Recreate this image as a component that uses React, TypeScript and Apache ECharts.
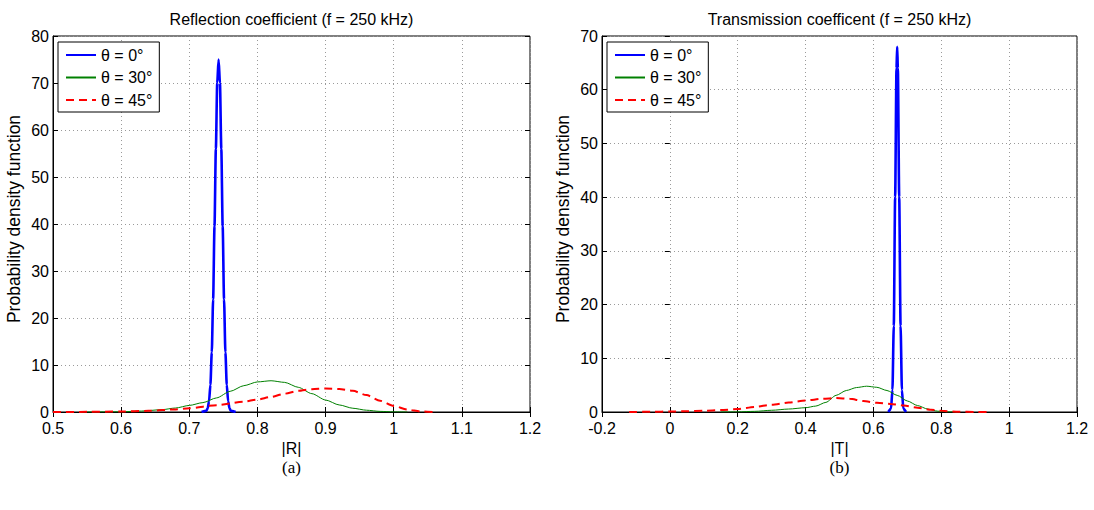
import React, { useEffect, useRef } from "react";
import * as echarts from "echarts";

const FONT = '"Liberation Sans", Arial, Helvetica, sans-serif';
const SERIF = '"Liberation Serif", "Times New Roman", serif';

const seriesNames = ["θ = 0°", "θ = 30°", "θ = 45°"];
const titles = ["Reflection coefficient (f = 250 kHz)", "Transmission coefficent (f = 250 kHz)"];
const captions = ["(a)", "(b)"];
const xNames = ["|R|", "|T|"];
const yName = "Probability density function";

// Reflection |R| — theta = 0°
const refl0: number[][] = [
  [0.718, 0], [0.725, 0.24], [0.727, 0.8], [0.729, 2.3], [0.731, 5.8], [0.733, 12.7],
  [0.735, 24], [0.737, 39.5], [0.739, 56], [0.741, 70], [0.743, 75], [0.745, 70],
  [0.747, 56], [0.749, 39.5], [0.751, 24], [0.753, 12.7], [0.755, 5.8], [0.757, 2.3],
  [0.759, 0.8], [0.761, 0.24], [0.768, 0],
];
// Reflection |R| — theta = 30°
const refl30: number[][] = [
  [0.55, 0], [0.6, 0.05], [0.63, 0.2], [0.66, 0.5], [0.68, 0.85], [0.7, 1.4],
  [0.72, 2.0], [0.74, 3.0], [0.76, 4.4], [0.78, 5.6], [0.8, 6.4], [0.82, 6.65],
  [0.84, 6.3], [0.86, 5.25], [0.88, 3.9], [0.9, 2.55], [0.92, 1.5], [0.94, 0.8],
  [0.96, 0.38], [0.98, 0.13], [1.0, 0.03], [1.02, 0],
];
// Reflection |R| — theta = 45°
const refl45: number[][] = [
  [0.5, 0], [0.55, 0.03], [0.6, 0.1], [0.64, 0.25], [0.68, 0.55], [0.7, 0.8],
  [0.74, 1.45], [0.78, 2.2], [0.8, 2.65], [0.82, 3.2], [0.84, 3.9], [0.86, 4.5],
  [0.88, 4.85], [0.9, 5.0], [0.92, 4.9], [0.94, 4.5], [0.96, 3.6], [0.98, 2.4],
  [1.0, 1.3], [1.02, 0.5], [1.04, 0.1], [1.06, 0],
];

// Transmission |T| — theta = 0°
const trans0: number[][] = [
  [0.644, 0], [0.652, 0.65], [0.656, 4.1], [0.66, 16], [0.664, 40], [0.668, 64],
  [0.67, 68], [0.672, 64], [0.676, 40], [0.68, 16], [0.684, 4.1], [0.688, 0.65], [0.696, 0],
];
// Transmission |T| — theta = 30°
const trans30: number[][] = [
  [0.15, 0], [0.2, 0.03], [0.25, 0.12], [0.3, 0.32], [0.35, 0.55], [0.4, 0.8],
  [0.43, 1.1], [0.46, 1.8], [0.49, 3.1], [0.52, 4.0], [0.55, 4.55], [0.58, 4.8],
  [0.61, 4.6], [0.64, 4.0], [0.67, 3.1], [0.7, 2.05], [0.73, 1.2], [0.76, 0.55],
  [0.79, 0.15], [0.82, 0.03], [0.85, 0],
];
// Transmission |T| — theta = 45°
const trans45: number[][] = [
  [-0.12, 0], [-0.05, 0.04], [0.0, 0.09], [0.05, 0.14], [0.1, 0.22], [0.15, 0.35],
  [0.2, 0.55], [0.25, 0.95], [0.3, 1.35], [0.35, 1.75], [0.4, 2.15], [0.45, 2.45],
  [0.49, 2.6], [0.53, 2.45], [0.57, 2.05], [0.61, 1.7], [0.65, 1.5], [0.69, 1.2],
  [0.73, 0.8], [0.77, 0.42], [0.81, 0.17], [0.85, 0.06], [0.9, 0.01], [0.94, 0],
];

const xRanges = [
  { min: 0.5, max: 1.2, interval: 0.1 },
  { min: -0.2, max: 1.2, interval: 0.2 },
];
const yRanges = [
  { min: 0, max: 80, interval: 10 },
  { min: 0, max: 70, interval: 10 },
];

const lineStyles = [
  { color: "#0000ff", width: 2.6, type: "solid" as any },
  { color: "#008000", width: 1, type: "solid" as any },
  { color: "#ff0000", width: 2, type: [8, 5] as any },
];

const grids = [
  { left: 53, top: 36, width: 477, height: 376 },
  { left: 602, top: 36, width: 475, height: 376 },
];

function buildOption() {
  const xAxis: any[] = [];
  const yAxis: any[] = [];
  const gridSplit = { show: true, lineStyle: { color: "#9a9a9a", type: [1, 3], width: 1 } };
  [0, 1].forEach((g) => {
    const xr = xRanges[g];
    const yr = yRanges[g];
    xAxis.push({
      type: "value", gridIndex: g, min: xr.min, max: xr.max, interval: xr.interval,
      name: xNames[g], nameLocation: "middle", nameGap: 19,
      nameTextStyle: { fontSize: 16, color: "#000", fontFamily: FONT },
      axisLine: { show: true, onZero: false, lineStyle: { color: "#000", width: 1 } },
      axisTick: { show: true, inside: true, length: 5, lineStyle: { color: "#000" } },
      axisLabel: { color: "#000", fontSize: 16, margin: 9, lineHeight: 14, fontFamily: FONT },
      splitLine: gridSplit,
    });
    xAxis.push({
      type: "value", gridIndex: g, position: "top", min: xr.min, max: xr.max, interval: xr.interval,
      axisLine: { show: false },
      axisTick: { show: true, inside: true, length: 5, lineStyle: { color: "#000" } },
      axisLabel: { show: false }, splitLine: { show: false },
    });
    yAxis.push({
      type: "value", gridIndex: g, min: yr.min, max: yr.max, interval: yr.interval,
      name: yName, nameLocation: "middle", nameGap: 30, nameRotate: 90,
      nameTextStyle: { fontSize: 17.5, color: "#000", fontFamily: FONT, padding: [0, 0, 0, 10] },
      axisLine: { show: true, onZero: false, lineStyle: { color: "#000", width: 1 } },
      axisTick: { show: true, inside: true, length: 5, lineStyle: { color: "#000" } },
      axisLabel: { color: "#000", fontSize: 16, margin: 4, lineHeight: 12, fontFamily: FONT },
      splitLine: gridSplit,
    });
    yAxis.push({
      type: "value", gridIndex: g, position: "right", min: yr.min, max: yr.max, interval: yr.interval,
      axisLine: { show: false },
      axisTick: { show: true, inside: true, length: 5, lineStyle: { color: "#000" } },
      axisLabel: { show: false }, splitLine: { show: false },
    });
  });

  const data = [
    [refl0, refl30, refl45],
    [trans0, trans30, trans45],
  ];
  const series: any[] = [];
  [0, 1].forEach((g) => {
    data[g].forEach((d, i) => {
      series.push({
        type: "line", name: seriesNames[i], xAxisIndex: g * 2, yAxisIndex: g * 2,
        data: d, symbol: "none", showSymbol: false, smooth: 0.25, smoothMonotone: "x",
        lineStyle: lineStyles[i], itemStyle: { color: lineStyles[i].color },
        z: 3 + i,
      });
    });
  });

  const legend = grids.map((gr) => ({
    left: gr.left + 5, top: 42, orient: "vertical", data: seriesNames,
    itemWidth: 30, itemHeight: 14, itemGap: 6.5, padding: [5, 7, 4, 7],
    borderColor: "#000", borderWidth: 1, backgroundColor: "#fff",
    textStyle: { fontSize: 16, lineHeight: 16, color: "#000", fontFamily: FONT },
    itemStyle: { opacity: 0 },
    lineStyle: { opacity: 1 },
    selectedMode: false,
  }));

  const graphic: any[] = [];
  grids.forEach((gr, g) => {
    const cx = gr.left + gr.width / 2;
    graphic.push({
      type: "text", x: cx, y: 19,
      style: {
        text: titles[g], font: `16px ${FONT}`, fill: "#000",
        align: "center", verticalAlign: "middle", textAlign: "center", textVerticalAlign: "middle",
      },
    });
    graphic.push({
      type: "text", x: cx, y: 467,
      style: {
        text: captions[g], font: `17px ${SERIF}`, fill: "#000",
        align: "center", verticalAlign: "middle", textAlign: "center", textVerticalAlign: "middle",
      },
    });
  });

  return {
    animation: false,
    backgroundColor: "#fff",
    grid: grids.map((gr) => ({ ...gr, show: true, borderColor: "#000", borderWidth: 1, backgroundColor: "transparent" })),
    xAxis, yAxis, series, legend, graphic,
  };
}

export default function App() {
  const ref = useRef<HTMLDivElement>(null);
  useEffect(() => {
    if (!ref.current) return;
    const chart = echarts.init(ref.current, undefined, { renderer: "svg" });
    chart.setOption(buildOption() as any);
    return () => chart.dispose();
  }, []);
  return (
    <div
      ref={ref}
      style={{ position: "absolute", left: 0, top: 0, width: 1094, height: 510, background: "#fff" }}
    />
  );
}
